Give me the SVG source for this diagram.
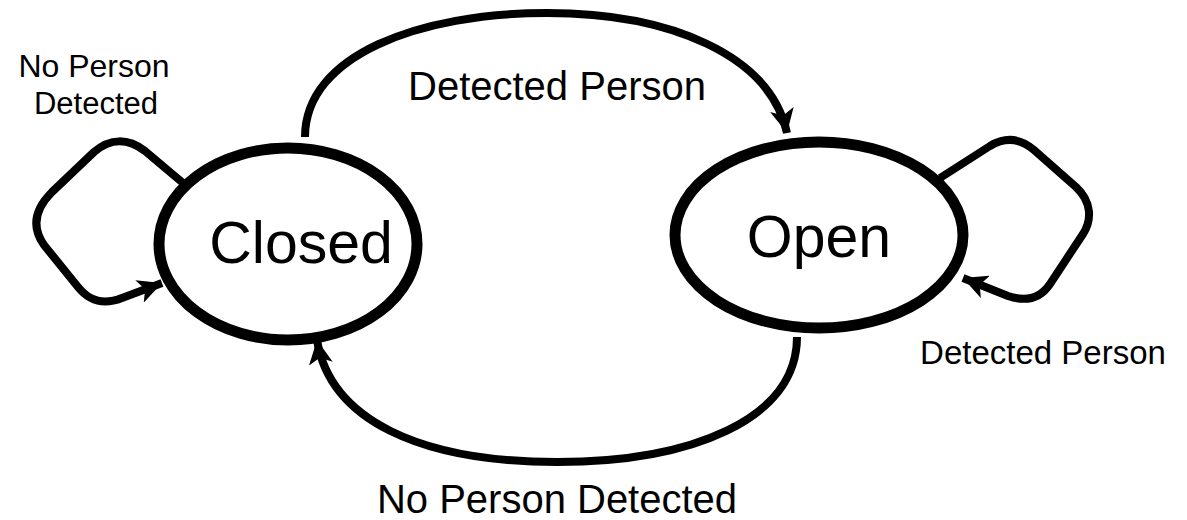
<svg xmlns="http://www.w3.org/2000/svg" width="1187" height="520" viewBox="0 0 1187 520">
<style>
.state{fill:#fff;stroke:#000;stroke-width:11}
.edge{fill:none;stroke:#000;stroke-width:8;stroke-linecap:butt;stroke-linejoin:round}
text{font-family:"Liberation Sans",Arial,sans-serif;fill:#000;text-anchor:middle}
</style>
<defs>
<marker id="arr" markerUnits="userSpaceOnUse" markerWidth="26" markerHeight="24" refX="24" refY="12" orient="auto">
<path d="M0,0 L24,12 L0,24 L6,12 Z" fill="#000"/>
</marker>
</defs>
<rect width="1187" height="520" fill="#fff"/>
<g id="connectors">
<path class="edge" d="M305,137 C305,55 420,13 547,13 C670,13 770,55 787,133" marker-end="url(#arr)"/>
<path class="edge" d="M797,337 C797,420 690,462 557,462 C420,462 330,420 317,340" marker-end="url(#arr)"/>
<path class="edge" d="M183,183 L145,151 C128,138 110,138 94,152 L52,192 C34,210 32,228 44,245 L78,287 C90,302 104,305 122,298 L162,283" marker-end="url(#arr)"/>
<path class="edge" d="M940,178 L990,146 C1005,137 1020,138 1034,150 L1076,187 C1092,202 1092,220 1083,234 L1050,284 C1040,299 1026,302 1008,296 L963,278" marker-end="url(#arr)"/>
</g>
<g id="closed">
<ellipse class="state" cx="288" cy="244" rx="129" ry="96"/>
<text x="301" y="263" font-size="59">Closed</text>
</g>
<g id="open">
<ellipse class="state" cx="819" cy="235" rx="144" ry="93"/>
<text x="819" y="257" font-size="59">Open</text>
</g>
<g id="labels">
<text x="557" y="100" font-size="40">Detected Person</text>
<text x="557" y="513" font-size="40">No Person Detected</text>
<text x="94" y="77" font-size="32">No Person</text>
<text x="96" y="114" font-size="31">Detected</text>
<text x="1043" y="364" font-size="33">Detected Person</text>
</g>
</svg>
